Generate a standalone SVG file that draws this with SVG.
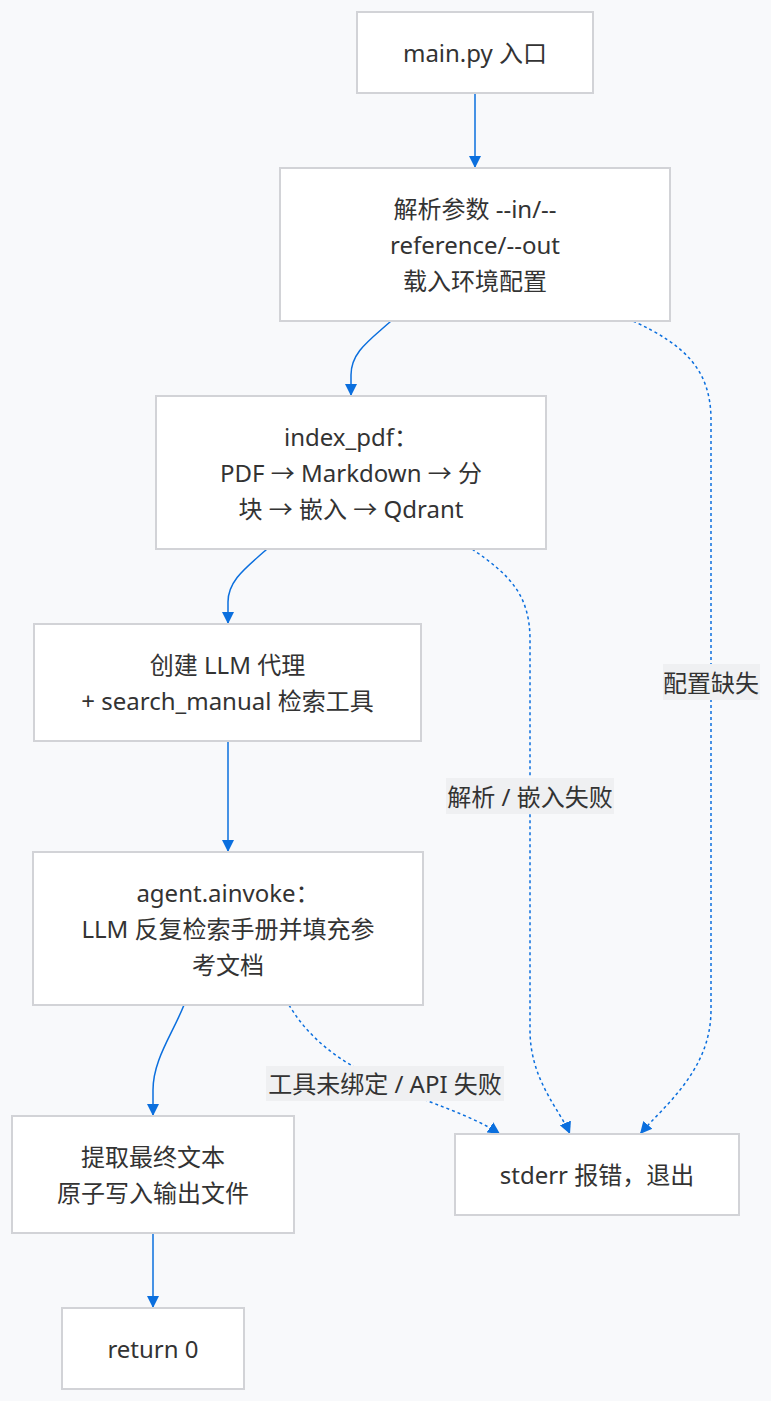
<svg xmlns="http://www.w3.org/2000/svg" width="771" height="1401" viewBox="0 0 771 1401">
<style>
.bg{fill:#f8f9fb}
.node rect{fill:#ffffff;stroke:#d2d3d7;stroke-width:2}
text{font-family:"Noto Sans","Noto Sans CJK SC",sans-serif;font-size:24px;fill:#333333;text-anchor:middle;dominant-baseline:central}
.e{fill:none;stroke:#0b6fde;stroke-width:1.5}
.d{fill:none;stroke:#0b6fde;stroke-width:1.5;stroke-dasharray:3 3}
.lbl rect{fill:#eff0f2;stroke:none}
</style>
<defs>
<marker id="ah" markerUnits="userSpaceOnUse" markerWidth="14" markerHeight="14" viewBox="0 0 14 14" refX="12" refY="7" orient="auto">
<path d="M0,1 L12,7 L0,13 Z" fill="#0b6fde"/>
</marker>
</defs>
<rect class="bg" x="0" y="0" width="771" height="1401"/>
<g id="connectors">
<path class="e" d="M475,93 L475,168" marker-end="url(#ah)"/>
<path class="e" d="M391,321 C370,340 351,352 351,375 L351,396" marker-end="url(#ah)"/>
<path class="e" d="M267,549 C247,567 228,580 228,602 L228,624" marker-end="url(#ah)"/>
<path class="e" d="M228,741 L228,852" marker-end="url(#ah)"/>
<path class="e" d="M184,1005 C172,1035 153,1060 153,1090 L153,1116" marker-end="url(#ah)"/>
<path class="e" d="M153,1233 L153,1308" marker-end="url(#ah)"/>
<path class="d" d="M633,321 C685,345 711,370 711,420 L711,1010 C711,1070 665,1105 640,1134" marker-end="url(#ah)"/>
<path class="d" d="M472,549 C510,575 530,595 530,640 L530,1030 C530,1080 560,1110 570,1134" marker-end="url(#ah)"/>
<path class="d" d="M289,1005 C310,1040 340,1062 385,1083 C425,1102 470,1114 500,1134" marker-end="url(#ah)"/>
<g class="lbl" id="label-config">
<rect x="663" y="664" width="97" height="36"/>
<text x="711" y="682">配置缺失</text>
</g>
<g class="lbl" id="label-parse">
<rect x="446" y="778" width="168" height="36"/>
<text x="530" y="796">解析 / 嵌入失败</text>
</g>
<g class="lbl" id="label-tool">
<rect x="266" y="1066" width="238" height="35"/>
<text x="385" y="1083">工具未绑定 / API 失败</text>
</g>
</g>
<g id="n-main" class="node">
<rect x="357" y="12" width="236" height="81"/>
<text x="475" y="52.5">main.py 入口</text>
</g>
<g id="n-parse" class="node">
<rect x="280" y="168" width="390" height="153"/>
<text x="475" y="208.5">解析参数 --in/--</text>
<text x="475" y="244.5">reference/--out</text>
<text x="475" y="280.5">载入环境配置</text>
</g>
<g id="n-index" class="node">
<rect x="156" y="396" width="390" height="153"/>
<text x="351" y="436.5">index_pdf：</text>
<text x="351" y="472.5">PDF → Markdown → 分</text>
<text x="351" y="508.5">块 → 嵌入 → Qdrant</text>
</g>
<g id="n-agent" class="node">
<rect x="34" y="624" width="387" height="117"/>
<text x="227.5" y="664.5">创建 LLM 代理</text>
<text x="227.5" y="700.5">+ search_manual 检索工具</text>
</g>
<g id="n-invoke" class="node">
<rect x="33" y="852" width="390" height="153"/>
<text x="228" y="892">agent.ainvoke：</text>
<text x="228" y="928">LLM 反复检索手册并填充参</text>
<text x="228" y="964">考文档</text>
</g>
<g id="n-extract" class="node">
<rect x="12" y="1116" width="282" height="117"/>
<text x="153" y="1156">提取最终文本</text>
<text x="153" y="1192">原子写入输出文件</text>
</g>
<g id="n-stderr" class="node">
<rect x="455" y="1134" width="284" height="81"/>
<text x="597" y="1174.5">stderr 报错，退出</text>
</g>
<g id="n-return" class="node">
<rect x="62" y="1308" width="182" height="81"/>
<text x="153" y="1348.5">return 0</text>
</g>
</svg>
